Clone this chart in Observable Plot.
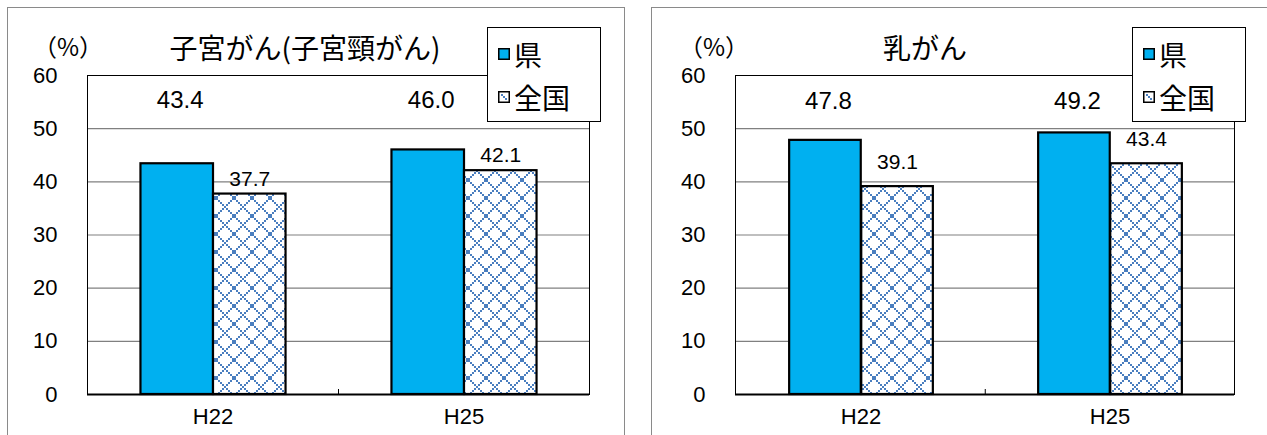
<!DOCTYPE html>
<html><head><meta charset="utf-8">
<script src="https://cdn.jsdelivr.net/npm/d3@7"></script>
<script src="https://cdn.jsdelivr.net/npm/@observablehq/plot@0.6"></script>
<style>
body{margin:0;background:#fff;}
#wrap{position:relative;width:1267px;height:435px;overflow:hidden;background:#fff;font-family:"Noto Sans CJK JP",sans-serif;color:#000;}
.panel{position:absolute;top:7px;height:520px;border:1.5px solid #8a8a8a;box-sizing:border-box;}
.chart{position:absolute;top:0;}
.title{position:absolute;transform:translate(-50%,-50%);font-size:28px;white-space:nowrap;line-height:1;}
.unit{position:absolute;transform:translate(-50%,-50%);font-size:24px;white-space:nowrap;line-height:1;height:24px;overflow:visible;font-family:"Noto Sans CJK JP",sans-serif;}
.legend{position:absolute;top:27px;width:114px;height:95px;border:1px solid #000;background:#fff;box-sizing:border-box;z-index:5;}
.item{position:absolute;left:10px;display:flex;align-items:center;font-size:28px;line-height:1;transform:translateY(-50%);}
.item svg{margin-right:4px;}
</style>
</head><body>
<div id="wrap">
  <div class="panel" style="left:7px;width:618px;"></div>
  <div class="panel" style="left:651px;width:700px;"></div>
</div>
<script>
// ---- data ----
const years = ["H22", "H25"];
const seriesNames = ["県", "全国"];
const cervicalPref = [43.4, 46.0];
const cervicalNational = [37.7, 42.1];
const breastPref = [47.8, 49.2];
const breastNational = [39.1, 43.4];
const yTicks = [0, 10, 20, 30, 40, 50, 60];
const chartTitles = ["子宮がん(子宮頸がん)", "乳がん"];
const unitLabel = "（%）";

const prefColor = "#00B0F0";
const patColor = "#4a7ebf";
const wrap = document.getElementById("wrap");

function addPattern(svg, id) {
  const defs = d3.select(svg).insert("defs", ":first-child");
  const p = defs.append("pattern").attr("id", id).attr("patternUnits", "userSpaceOnUse")
    .attr("width", 18).attr("height", 18);
  p.append("rect").attr("width", 18).attr("height", 18).attr("fill", "#fff");
  for (let k = 0; k < 9; k++) {
    p.append("rect").attr("x", 2 * k).attr("y", 2 * k).attr("width", 2).attr("height", 2).attr("fill", patColor);
    p.append("rect").attr("x", 2 * k).attr("y", 16 - 2 * k).attr("width", 2).attr("height", 2).attr("fill", patColor);
  }
}

function makeChart(pref, nat, opt) {
  const rows = years.map((y, i) => ({year: y, pref: pref[i], nat: nat[i]}));
  const W = opt.width, H = 435, ml = opt.ml, mr = opt.mr, mt = 75, mb = 41;
  const bw = (W - ml - mr) / years.length;
  const lead = 0.213 * bw, barW = 0.289 * bw;
  const ph = H - mt - mb;
  const numFont = "'Liberation Sans', Arial, sans-serif";
  const svg = Plot.plot({
    width: W, height: H, marginLeft: ml, marginRight: mr, marginTop: mt, marginBottom: mb,
    style: {background: "transparent", fontFamily: numFont, fontSize: "22px", color: "#000", overflow: "visible"},
    x: {domain: years, padding: 0},
    y: {domain: [0, 60]},
    marks: [
      Plot.ruleY(yTicks.slice(1, -1), {stroke: "#808080", strokeWidth: 1.2}),
      Plot.barY(rows, {x: "year", y: "pref", fill: prefColor, stroke: "#000", strokeWidth: 2.2,
        insetLeft: lead, insetRight: bw - lead - barW}),
      Plot.barY(rows, {x: "year", y: "nat", fill: `url(#${opt.id})`, stroke: "#000", strokeWidth: 2.2,
        insetLeft: lead + barW, insetRight: bw - lead - 2 * barW}),
      Plot.frame({stroke: "#000", strokeWidth: 1}),
      Plot.ruleY([0], {stroke: "#000", strokeWidth: 2}),
      Plot.ruleX([years[1]], {dx: -bw / 2, insetTop: ph - 5, stroke: "#000"}),
      Plot.axisY({ticks: yTicks, tickSize: 0, tickPadding: 30, fontSize: 22, label: null, tickFormat: d => String(d)}),
      Plot.axisX({tickSize: 0, tickPadding: 14, fontSize: 22, label: null}),
      Plot.text(rows, {x: "year", text: d => d.pref.toFixed(1), frameAnchor: "top", lineAnchor: "middle", dy: opt.prefDy,
        dx: lead + barW / 2 - bw / 2 + 3, fontSize: 24}),
      Plot.text(rows, {x: "year", y: "nat", text: d => d.nat.toFixed(1), lineAnchor: "middle", dy: opt.natDy,
        dx: lead + 1.5 * barW - bw / 2, fontSize: 21})
    ]
  });
  addPattern(svg, opt.id);
  svg.classList.add("chart");
  svg.style.left = opt.left + "px";
  wrap.appendChild(svg);

  const t = document.createElement("div");
  t.className = "title"; t.textContent = opt.title;
  t.style.left = opt.titleX + "px"; t.style.top = "47px";
  wrap.appendChild(t);
  const u = document.createElement("div");
  u.className = "unit"; u.textContent = unitLabel;
  u.style.left = opt.unitX + "px"; u.style.top = "46px";
  wrap.appendChild(u);

  const lg = document.createElement("div");
  lg.className = "legend"; lg.style.left = opt.legendX + "px";
  const sw1 = `<svg width="12" height="12"><rect x="0.75" y="0.75" width="10.5" height="10.5" fill="${prefColor}" stroke="#000" stroke-width="1.5"/></svg>`;
  const sw2 = `<svg width="12" height="12"><rect x="0.75" y="0.75" width="10.5" height="10.5" fill="#fff" stroke="#000" stroke-width="1.5"/><rect x="3" y="3" width="2" height="2" fill="${patColor}"/><rect x="5" y="5" width="2" height="2" fill="${patColor}"/><rect x="7" y="7" width="2" height="2" fill="${patColor}"/></svg>`;
  lg.innerHTML = `<div class="item" style="top:26px">${sw1}<span>${seriesNames[0]}</span></div>` +
                 `<div class="item" style="top:69px">${sw2}<span>${seriesNames[1]}</span></div>`;
  wrap.appendChild(lg);
}

makeChart(cervicalPref, cervicalNational, {id: "pat1", width: 640, left: 0, ml: 87, mr: 51,
  prefDy: 25, natDy: -15, title: chartTitles[0], titleX: 305, unitX: 68, legendX: 487});
makeChart(breastPref, breastNational, {id: "pat2", width: 627, left: 640, ml: 95, mr: 33,
  prefDy: 26, natDy: -24, title: chartTitles[1], titleX: 925, unitX: 714, legendX: 1132});
</script>
</body></html>
